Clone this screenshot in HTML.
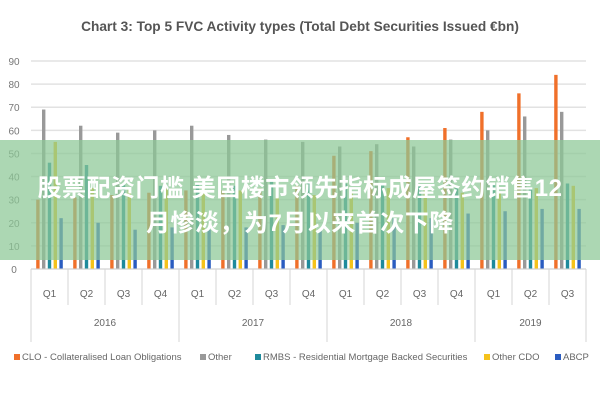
<!DOCTYPE html>
<html><head><meta charset="utf-8"><style>
body{margin:0;width:600px;height:400px;background:#fff;overflow:hidden;font-family:"Liberation Sans","Noto Sans CJK SC",sans-serif}
#wrap{position:relative;width:600px;height:400px}
#banner{position:absolute;left:0;top:140px;width:600px;height:120px;background:rgba(140,200,150,0.72);}
.bt{position:absolute;width:600px;text-align:center;color:#fff;font-weight:bold;font-size:24px;letter-spacing:0.5px;font-family:"Liberation Sans","Noto Sans CJK SC",sans-serif}
</style></head><body>
<div id="wrap">
<svg id="chart" width="600" height="400" style="position:absolute;left:0;top:0"></svg>
<div id="banner">
<div class="bt" style="top:28px">股票配资门槛 美国楼市领先指标成屋签约销售12</div>
<div class="bt" style="top:63px">月惨淡，为7月以来首次下降</div>
</div>
</div>
<script>
const quarters=["Q1","Q2","Q3","Q4","Q1","Q2","Q3","Q4","Q1","Q2","Q3","Q4","Q1","Q2","Q3"];
const years=["2016","2017","2018","2019"];
const yearSpans=[4,4,4,3];
const yTicks=[0,10,20,30,40,50,60,70,80,90];
const seriesNames=["CLO - Collateralised Loan Obligations","Other","RMBS - Residential Mortgage Backed Securities","Other CDO","ABCP"];
const clo=[30,31,32,33,34,34,35,36,49,51,57,61,68,76,84];
const other=[69,62,59,60,62,58,56,55,53,54,53,56,60,66,68];
const rmbs=[46,45,37,36,37,36,38,37,37,37,36,35,37,35,37];
const otherCdo=[55,35,35,35,35,34,31,32,33,35,34,33,33,35,36];
const abcp=[22,20,17,18,17,18,19,17,20,22,22,24,25,26,26];
const colors=["#f0702a","#999999","#1f8a9c","#f5c21b","#2a5cc0"];
const NS="http://www.w3.org/2000/svg";
const svg=document.getElementById('chart');
const L=31,R=586,Y0=269,Y90=61;
const y=v=>Y0-(v/90)*(Y0-Y90);
const gw=(R-L)/quarters.length;
const x=i=>L+i*gw;
function mk(t,a){const e=document.createElementNS(NS,t);for(const k in a)e.setAttribute(k,a[k]);svg.appendChild(e);return e;}
let t=mk('text',{x:300,y:31,'text-anchor':'middle','font-size':'13.7','font-weight':'bold',fill:'#555'});
t.textContent="Chart 3: Top 5 FVC Activity types (Total Debt Securities Issued €bn)";


yTicks.forEach(v=>{
 const g=mk('line',{x1:L,x2:R,y1:y(v),y2:y(v),stroke:'#e2e2e2','stroke-width':1.5});
 
 
 const tl=mk('text',{x:14,y:y(v)+4,'text-anchor':'middle','font-size':'10',fill:'#777'});
 tl.textContent=v;
 
 
});
const all=[clo,other,rmbs,otherCdo,abcp];
const bw=3.4,step=5.8;
all.forEach((s,si)=>{
 s.forEach((v,i)=>{
  const bx=x(i)+gw/2-2*step+(si*step)-bw/2;
  const r=mk('rect',{x:bx,y:y(v),width:bw,height:Y0-y(v),fill:colors[si]});
  
  
 });
});
mk('line',{x1:L,x2:R,y1:Y0,y2:Y0,stroke:'#d6d6d6'});
quarters.forEach((q,i)=>{
 const s=mk('line',{x1:x(i),x2:x(i),y1:Y0,y2:305,stroke:'#d6d6d6'});
 
 
 const tl=mk('text',{x:x(i)+gw/2,y:297,'text-anchor':'middle','font-size':'10',fill:'#666'});
 tl.textContent=q;
 
 
});
let acc=0;
years.forEach((yr,j)=>{
 const s=mk('line',{x1:x(acc),x2:x(acc),y1:Y0,y2:342,stroke:'#d6d6d6'});
 
 
 const tl=mk('text',{x:x(acc+yearSpans[j]/2),y:326,'text-anchor':'middle','font-size':'10',fill:'#666'});
 tl.textContent=yr;
 
 
 acc+=yearSpans[j];
});
mk('line',{x1:R,x2:R,y1:Y0,y2:342,stroke:'#d6d6d6'});
const lx=[14,200,255,484,555];
seriesNames.forEach((n,i)=>{
 const sq=mk('rect',{x:lx[i],y:354,width:6,height:6,fill:colors[i]});
 
 
 const tl=mk('text',{x:lx[i]+8,y:360,'font-size':'9.5',fill:'#666'});
 tl.textContent=n;
 
 
});
</script>
</body></html>
